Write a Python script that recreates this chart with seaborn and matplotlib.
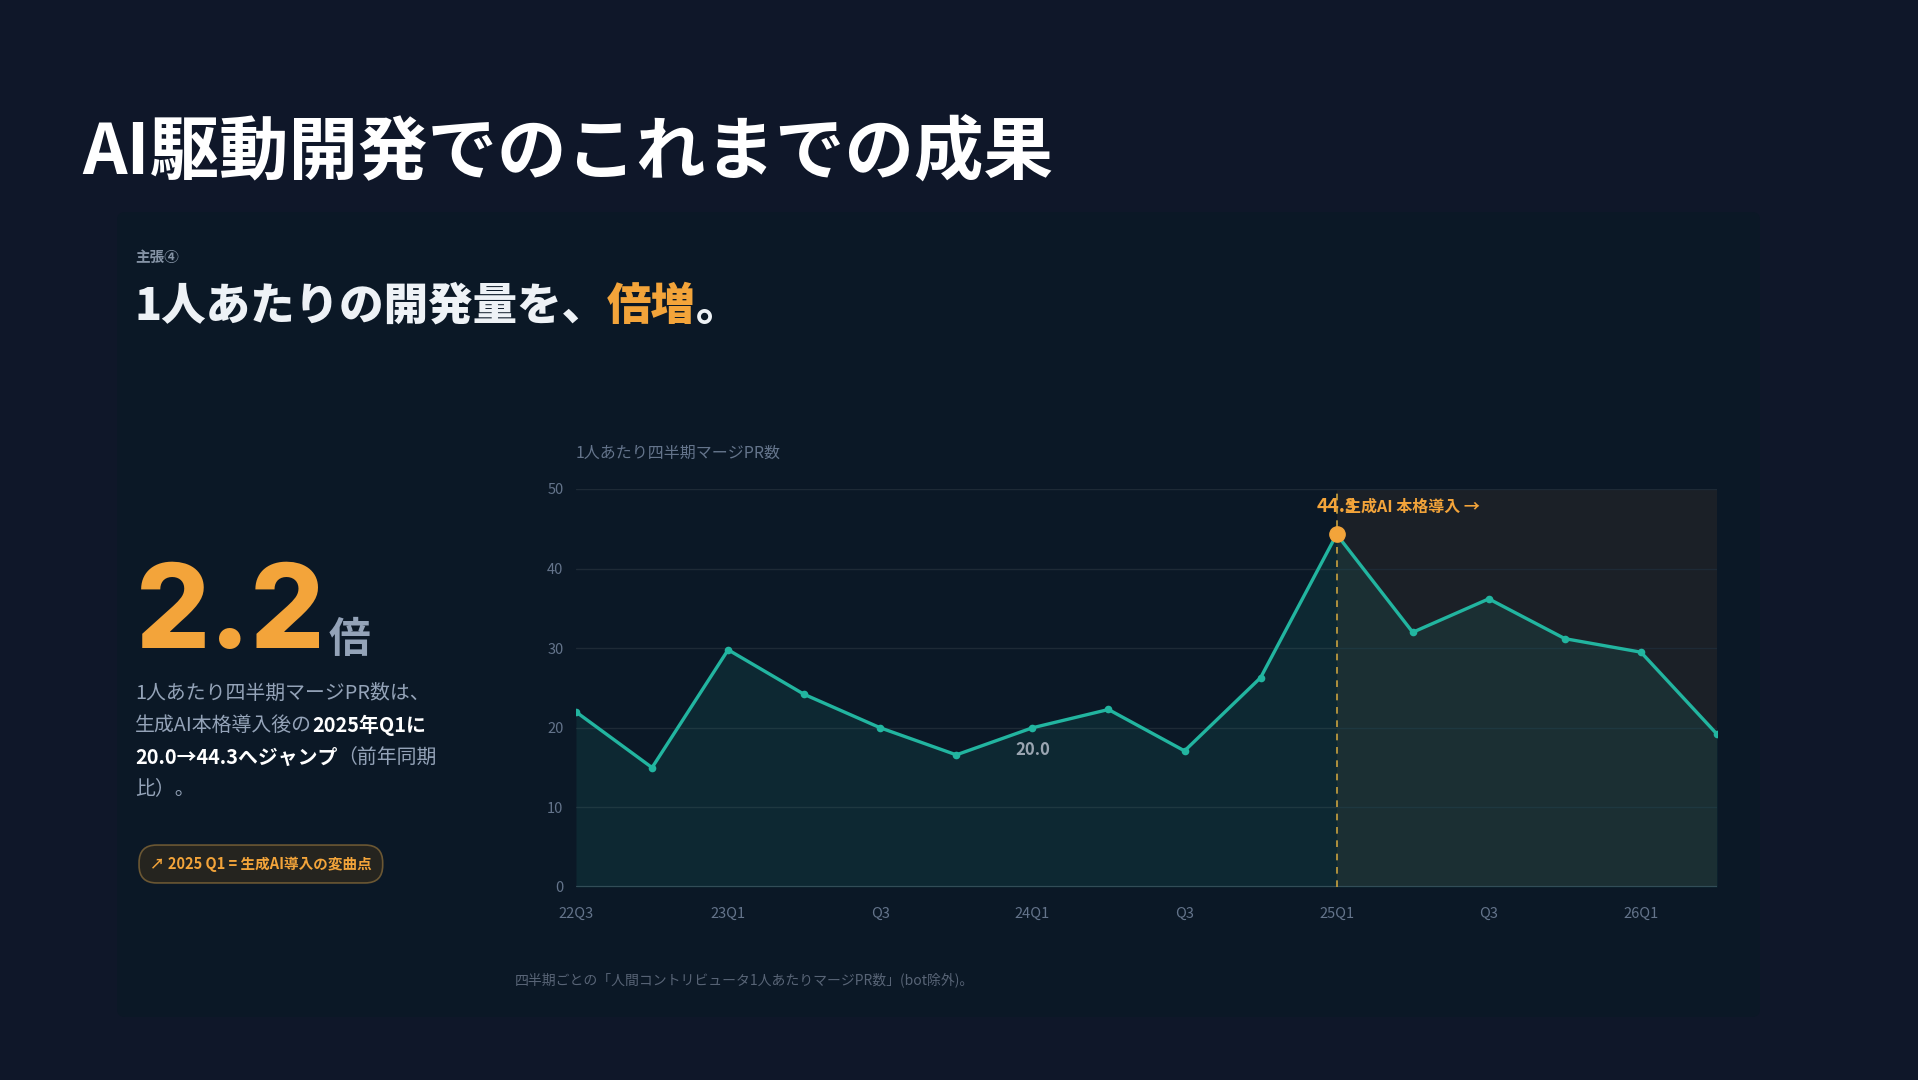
import pandas as pd
import matplotlib.pyplot as plt
import seaborn as sns
from matplotlib.patches import FancyBboxPatch

# quarterly merged PRs per human contributor
quarters = ["22Q3", "22Q4", "23Q1", "23Q2", "23Q3", "23Q4", "24Q1", "24Q2",
            "24Q3", "24Q4", "25Q1", "25Q2", "25Q3", "25Q4", "26Q1", "26Q2"]
pr_per_person = [22.0, 15.0, 29.8, 24.2, 20.0, 16.6, 20.0, 22.3,
                 17.1, 26.3, 44.3, 32.0, 36.2, 31.2, 29.5, 19.2]
tick_labels = ["22Q3", "23Q1", "Q3", "24Q1", "Q3", "25Q1", "Q3", "26Q1"]
y_ticks = [0, 10, 20, 30, 40, 50]
ai_start = "25Q1"
compare_from = "24Q1"

BG = "#0f1729"
CARD = "#0b1826"
TEAL = "#22b5a0"
ORANGE = "#f3a43a"
GREY = "#94a3b8"
MUTED = "#64748b"

sns.set_theme(style="dark")
plt.rcParams["font.family"] = ["Noto Sans CJK JP", "DejaVu Sans"]

W, H = 1918, 1080
fig = plt.figure(figsize=(W / 100, H / 100), dpi=100, facecolor=BG)


def px(x, y):
    return x / W, 1 - y / H


# background layer for the card and the left-hand text
bg = fig.add_axes([0, 0, 1, 1], zorder=0)
bg.set_xlim(0, 1)
bg.set_ylim(0, 1)
bg.axis("off")
card_x, card_y = px(117, 1017)
card_w, card_h = (1760 - 117) / W, (1017 - 212) / H
bg.add_patch(FancyBboxPatch((card_x, card_y), card_w, card_h,
                            boxstyle="round,pad=0,rounding_size=0.004",
                            facecolor=CARD, edgecolor="none", mutation_aspect=W / H))

bg.text(*px(82, 153), "AI駆動開発でのこれまでの成果", color="white", fontsize=50,
        fontweight="bold", va="center", ha="left")
bg.text(*px(135, 257), "主張④", color="#8593a5", fontsize=10.5, fontweight="bold",
        va="center", ha="left")
t = bg.text(*px(135, 306), "1人あたりの開発量を、", color="#eef2f6", fontsize=32,
            fontweight="black", va="center", ha="left")
t = bg.annotate("倍増", xy=(1, 0), xycoords=t, color=ORANGE, fontsize=32,
                fontweight="black", va="bottom", ha="left")
bg.annotate("。", xy=(1, 0), xycoords=t, color="#eef2f6", fontsize=32,
            fontweight="black", va="bottom", ha="left")

big = bg.text(*px(136, 648), "2.2", color=ORANGE, fontsize=84, fontweight="heavy",
              family=["Inter", "DejaVu Sans"], va="baseline", ha="left")
bg.annotate("倍", xy=(1, 0), xycoords=big, xytext=(2, 8), textcoords="offset points",
            color=GREY, fontsize=30, fontweight="bold", va="bottom", ha="left")

body = [
    [("1人あたり四半期マージPR数は、", False)],
    [("生成AI本格導入後の", False), ("2025年Q1に", True)],
    [("20.0→44.3へジャンプ", True), ("（前年同期", False)],
    [("比）。", False)],
]
for i, line in enumerate(body):
    prev = None
    for s, bold in line:
        kw = dict(color="white" if bold else GREY, fontsize=14.3,
                  fontweight="bold" if bold else "normal", ha="left")
        if prev is None:
            prev = bg.text(*px(135, 693 + 32 * i), s, va="center", **kw)
        else:
            prev = bg.annotate(s, xy=(1, 0), xycoords=prev, va="bottom", **kw)

bg.text(*px(150, 864), "↗ 2025 Q1 = 生成AI導入の変曲点", color=ORANGE, fontsize=10.5,
        fontweight="bold", va="center", ha="left",
        bbox=dict(boxstyle="round,pad=0.75,rounding_size=1.2", facecolor="#25241f",
                  edgecolor="#6b5733", linewidth=1.2))

bg.text(*px(576, 453), "1人あたり四半期マージPR数", color=MUTED, fontsize=11.5,
        va="center", ha="left")
bg.text(*px(515, 980), "四半期ごとの「人間コントリビュータ1人あたりマージPR数」(bot除外)。",
        color="#586476", fontsize=10, va="center", ha="left")

# line chart
df = pd.DataFrame({"quarter": quarters, "value": pr_per_person})
df["idx"] = range(len(df))
ai_idx = quarters.index(ai_start)
ax_l, ax_b = px(576, 887)
ax = fig.add_axes([ax_l, ax_b, (1717 - 576) / W, (887 - 489) / H], zorder=1)
ax.set_facecolor("none")

ax.axvspan(ai_idx, df["idx"].max(), color="#1b2027", zorder=0, lw=0)
for yv in y_ticks[1:]:
    ax.axhline(yv, color="#1e2a36", lw=1, zorder=0.5)
ax.axhline(0, color="#34424f", lw=1.6, zorder=0.6)
ax.fill_between(df["idx"], df["value"], 0, color=TEAL, alpha=0.1, lw=0, zorder=1)
sns.lineplot(data=df, x="idx", y="value", ax=ax, color=TEAL, lw=2.4, marker="o",
             markersize=5.5, markeredgewidth=0, zorder=2)

peak = df.loc[ai_idx]
ax.axvline(ai_idx, color="#c9a23f", lw=1.2, ls=(0, (4, 4)), zorder=1.5)
ax.plot(peak["idx"], peak["value"], "o", color=ORANGE, markersize=11, zorder=3)
ax.annotate(f"{peak['value']:.1f}", xy=(peak["idx"], peak["value"]), xytext=(0, 20),
            textcoords="offset points", color=ORANGE, fontsize=14, fontweight="bold",
            ha="center", va="center")
ax.annotate("生成AI 本格導入 →", xy=(peak["idx"], peak["value"]), xytext=(6, 20),
            textcoords="offset points", color=ORANGE, fontsize=11.5, fontweight="bold",
            ha="left", va="center")

cmp = df.loc[quarters.index(compare_from)]
ax.annotate(f"{cmp['value']:.1f}", xy=(cmp["idx"], cmp["value"]), xytext=(0, -16),
            textcoords="offset points", color="#9aa5b1", fontsize=12, fontweight="bold",
            ha="center", va="center")

ax.set_xlim(0, len(df) - 1)
ax.set_ylim(0, 50)
ax.set_xticks(df["idx"][::2])
ax.set_xticklabels(tick_labels)
ax.set_yticks(y_ticks)
ax.set_xlabel("")
ax.set_ylabel("")
ax.tick_params(axis="x", colors=MUTED, labelsize=10.5, length=0, pad=14)
ax.tick_params(axis="y", colors=MUTED, labelsize=10.5, length=0, pad=9)
ax.grid(False)
for sp in ax.spines.values():
    sp.set_visible(False)

fig.savefig("out.png", dpi=100, facecolor=BG)
